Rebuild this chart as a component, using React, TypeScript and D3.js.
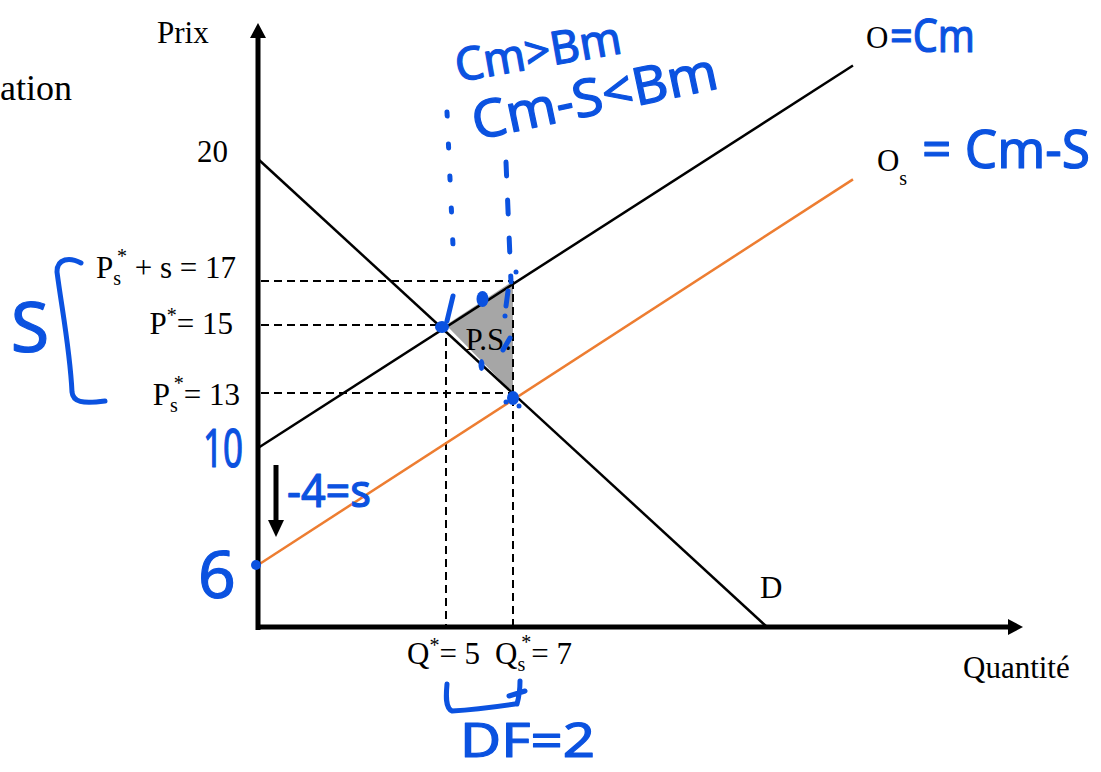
import React from 'react';
import * as d3 from 'd3';

// Supply and demand with a per-unit subsidy (sketch, not drawn to scale)
const priceLevels = [0, 6, 10, 13, 15, 17, 20];
const quantityLevels = [0, 5, 7, 20];

const demandLine: [number, number][] = [[0, 20], [20, 0]];
const supplyLine: [number, number][] = [[0, 10], [24.4, 22.3]];
const subsidizedSupplyLine: [number, number][] = [[0, 6], [24.4, 19.5]];
const producerSurplus: [number, number][] = [[5, 15], [7, 17], [7, 13]];

const priceGuides = [
  { p: 17, q: 7 },
  { p: 15, q: 5 },
  { p: 13, q: 7 },
];
const quantityGuides = [
  { q: 5, p: 15 },
  { q: 7, p: 17 },
];

const SERIF = '"Liberation Serif", "Times New Roman", serif';
const HAND = '"Noto Sans", "DejaVu Sans", sans-serif';
const BLUE = '#0b52e0';
const ORANGE = '#ed7d31';

export default function App() {
  const x = d3.scaleLinear().domain(quantityLevels).range([258, 446, 513, 767]);
  const y = d3.scaleLinear().domain(priceLevels).range([627, 565, 448, 393, 325, 281, 159]);
  const line = d3.line<[number, number]>().x((d) => x(d[0])).y((d) => y(d[1]));

  const x0 = x(0);
  const y0 = y(0);
  const yTop = 23;
  const xRight = 1023;

  const [supplyEndQ, supplyEndP] = supplyLine[1];
  const [subEndQ, subEndP] = subsidizedSupplyLine[1];

  const hand = {
    fill: BLUE,
    stroke: BLUE,
    strokeWidth: 1.2,
    strokeLinejoin: 'round' as const,
    fontFamily: HAND,
  };
  const pen = {
    fill: 'none',
    stroke: BLUE,
    strokeWidth: 5,
    strokeLinecap: 'round' as const,
    strokeLinejoin: 'round' as const,
  };

  return (
    <svg
      width={1101}
      height={772}
      style={{ position: 'absolute', left: 0, top: 0, display: 'block', background: '#fff' }}
    >
      {/* producer surplus */}
      <path
        d={d3.line().curve(d3.curveLinearClosed)(producerSurplus.map(([q, p]) => [x(q), y(p)])) || ''}
        fill="#a6a6a6"
      />

      {/* dashed guides */}
      <g stroke="#000" strokeWidth={2} strokeDasharray="8 5">
        {priceGuides.map((g) => (
          <line key={'h' + g.p} x1={x0 + 3} x2={x(g.q)} y1={y(g.p)} y2={y(g.p)} />
        ))}
        {quantityGuides.map((g) => (
          <line key={'v' + g.q} x1={x(g.q)} x2={x(g.q)} y1={y(g.p)} y2={y0} />
        ))}
      </g>

      {/* curves */}
      <path d={line(demandLine) || ''} stroke="#000" strokeWidth={2.5} fill="none" />
      <path d={line(supplyLine) || ''} stroke="#000" strokeWidth={2.5} fill="none" />
      <path d={line(subsidizedSupplyLine) || ''} stroke={ORANGE} strokeWidth={2.5} fill="none" />

      {/* axes */}
      <line x1={x0} x2={x0} y1={y0 + 3} y2={yTop + 14} stroke="#000" strokeWidth={5} />
      <path d={`M${x0 - 8},${yTop + 15}L${x0 + 8},${yTop + 15}L${x0},${yTop}Z`} fill="#000" />
      <line x1={x0 - 2} x2={xRight - 14} y1={y0} y2={y0} stroke="#000" strokeWidth={5} />
      <path d={`M${xRight - 15},${y0 - 8}L${xRight - 15},${y0 + 8}L${xRight},${y0}Z`} fill="#000" />

      {/* subsidy shift arrow */}
      <line x1={x0 + 18} x2={x0 + 18} y1={y(10) + 17} y2={y(6) - 44} stroke="#000" strokeWidth={5} />
      <path d={`M${x0 + 10},${y(6) - 45}L${x0 + 26},${y(6) - 45}L${x0 + 18},${y(6) - 28}Z`} fill="#000" />

      {/* typed labels */}
      <g fontFamily={SERIF} fontSize={31} fill="#000">
        <text x={72} y={100} fontSize={36} textAnchor="end">ation</text>
        <text x={157} y={43}>Prix</text>
        <text x={963} y={678}>Quantité</text>
        <text x={228} y={y(20) + 3} textAnchor="end">20</text>
        <text x={236} y={y(17) - 3} textAnchor="end">
          <tspan>P</tspan>
          <tspan fontSize={20} dy={7}>s</tspan>
          <tspan fontSize={20} dx={-4} dy={-22}>*</tspan>
          <tspan dy={15}> + s = 17</tspan>
        </text>
        <text x={233} y={y(15) + 9} textAnchor="end">
          <tspan>P</tspan>
          <tspan fontSize={20} dy={-12}>*</tspan>
          <tspan dy={12}>= 15</tspan>
        </text>
        <text x={240} y={y(13) + 12} textAnchor="end">
          <tspan>P</tspan>
          <tspan fontSize={20} dy={7}>s</tspan>
          <tspan fontSize={20} dx={-4} dy={-22}>*</tspan>
          <tspan dy={15}>= 13</tspan>
        </text>
        <text x={x(5) - 39} y={664}>
          <tspan>Q</tspan>
          <tspan fontSize={20} dy={-12}>*</tspan>
          <tspan dy={12}>= 5</tspan>
        </text>
        <text x={x(7) - 18} y={664}>
          <tspan>Q</tspan>
          <tspan fontSize={20} dy={7}>s</tspan>
          <tspan fontSize={20} dx={-4} dy={-22}>*</tspan>
          <tspan dy={15}>= 7</tspan>
        </text>
        <text x={x(20) - 7} y={y0 - 29}>D</text>
        <text x={x(supplyEndQ) + 13} y={y(supplyEndP) - 17}>O</text>
        <text x={x(subEndQ) + 24} y={y(subEndP) - 8}>
          <tspan>O</tspan>
          <tspan fontSize={20} dy={14}>s</tspan>
        </text>
        <text x={(x(5) + 2 * x(7)) / 3 - 2} y={350} textAnchor="middle">P.S.</text>
      </g>

      {/* handwritten notes */}
      <g {...hand}>
        <text transform="translate(458,82) rotate(-10)" fontSize={46} textLength={168} lengthAdjust="spacingAndGlyphs">Cm&gt;Bm</text>
        <text transform="translate(476,140) rotate(-12)" fontSize={52} textLength={250} lengthAdjust="spacingAndGlyphs">Cm-S&lt;Bm</text>
        <text x={890} y={52} fontSize={46} textLength={85} lengthAdjust="spacingAndGlyphs">=Cm</text>
        <text x={922} y={168} fontSize={52} textLength={168} lengthAdjust="spacingAndGlyphs">= Cm-S</text>
        <text x={30} y={352} fontSize={70} textAnchor="middle">S</text>
        <text x={203} y={467} fontSize={52} textLength={40} lengthAdjust="spacingAndGlyphs">10</text>
        <text x={198} y={598} fontSize={66}>6</text>
        <text x={287} y={507} fontSize={46} textLength={84} lengthAdjust="spacingAndGlyphs">-4=s</text>
        <text x={460} y={757} fontSize={48} textLength={135} lengthAdjust="spacingAndGlyphs">DF=2</text>
      </g>

      <g {...pen}>
        {/* brace around the price gap */}
        <path d="M81,263 C70,257 57,258 57,272 C62,310 70,350 72,392 C73,402 82,404 105,401" />
        {/* brace under the quantity gap */}
        <path d="M447,684 C446,695 445,708 452,711 C470,710 495,707 515,704" />
        <path d="M520,681 C520,690 519,697 517,704 M509,696 L525,691" />
        {/* dotted verticals from the quantities up to the notes */}
        <path d={`M${x(5) + 1},112 L${x(5) + 8},268`} strokeDasharray="4 28" />
        <path d={`M${x(5) + 7},296 L${x(5) + 1},321`} />
        <path d={`M${x(7) - 7},162 L${x(7) - 2},282`} strokeDasharray="14 24" />
        <path d={`M${x(7) - 5},291 L${x(7) - 7},306`} />
        <path d={`M${x(7) - 10},350 L${x(7) - 3},338`} />
      </g>
      <g fill={BLUE}>
        <ellipse cx={x(5) - 4} cy={y(15) + 2} rx={7} ry={6} />
        <ellipse cx={x(6) + 3} cy={y(16) - 4} rx={6} ry={8} />
        <ellipse cx={x(6) + 2} cy={y(14) + 6} rx={3} ry={6} />
        <ellipse cx={x(7)} cy={y(13) + 5} rx={6} ry={7} />
        <circle cx={x(7) - 7} cy={y(13) + 9} r={2.5} />
        <circle cx={x(7) + 6} cy={y(13) + 13} r={2.5} />
        <circle cx={x(7) - 8} cy={316} r={2.5} />
        <circle cx={x(7) + 3} cy={272} r={2.5} />
        <circle cx={x(0) - 2} cy={y(6)} r={5} />
      </g>
    </svg>
  );
}
